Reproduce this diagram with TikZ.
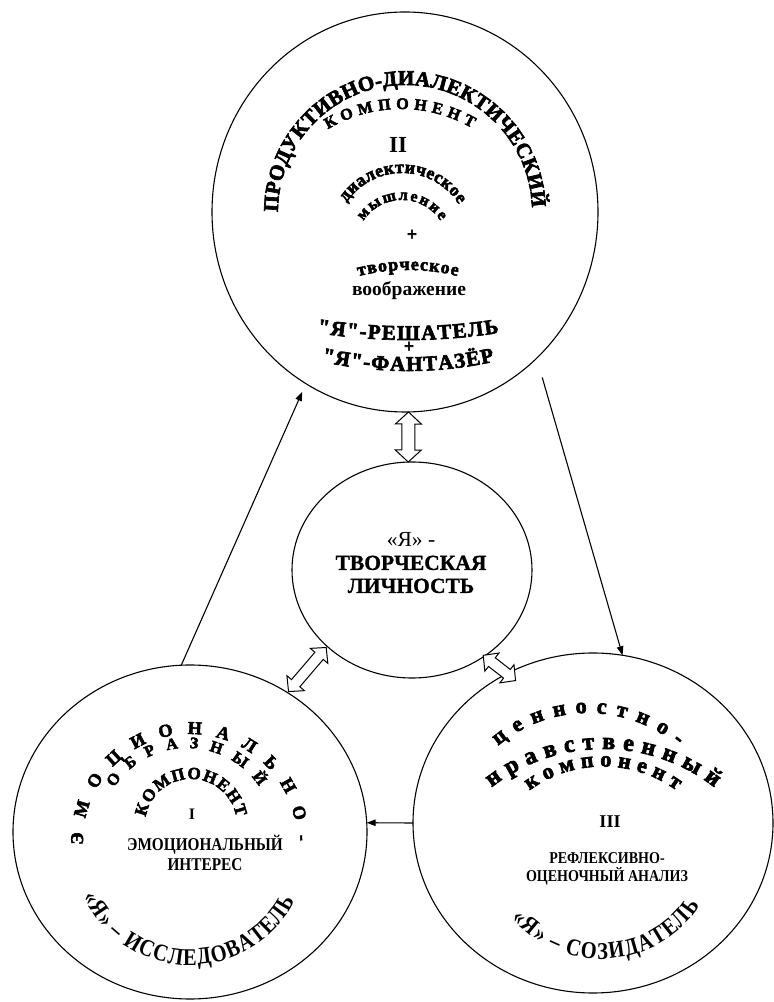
\documentclass[tikz,border=0pt]{standalone}
\usepackage{fontspec}
\setmainfont{Liberation Serif}
\newfontfamily\condfont[FakeStretch=0.85]{Liberation Serif}
\newfontfamily\heavy[UprightFont={* Bold},FakeBold=3]{Liberation Serif}
\newfontfamily\semiheavy[UprightFont={* Bold},FakeBold=1]{Liberation Serif}
\usetikzlibrary{shapes.geometric, arrows.meta, decorations.text, calc}

\newcommand\arctext[6]{%
  \path[decorate, decoration={text along path, text={|#5|#6}, text align={fit to path}}]
    (#1) ++(#3:#2) arc[start angle=#3, end angle=#4, radius=#2];}

\newcommand\dblarrow[7]{%
  \draw[hollow] let \p1=(#1), \p2=(#2), \p3=($(\p1)!#3!(\p2)$),
    \n1={atan2(\y2-\y1,\x2-\x1)} in
    ([da]-#4,0) -- ([da]-#4+#7,#6) -- ([da]-#4+#7,#5) -- ([da]#4-#7,#5) --
    ([da]#4-#7,#6) -- ([da]#4,0) -- ([da]#4-#7,-#6) -- ([da]#4-#7,-#5) --
    ([da]-#4+#7,-#5) -- ([da]-#4+#7,-#6) -- cycle;}

\begin{document}
\begin{tikzpicture}[x=1pt,y=1pt]
\tikzset{
  circ/.style={draw, ellipse, inner sep=0pt, outer sep=0pt, line width=1.1pt},
  conn/.style={line width=1.1pt, -{Triangle[length=9pt,width=6.5pt]}},
  hollow/.style={draw, line width=1pt, fill=white, line join=miter},
  da/.style={shift={(\p3)}, rotate=\n1},
  lbl/.style={inner sep=0pt, align=center}
}
\fill[white] (0,0) rectangle (774,1002);
\useasboundingbox (0,0) rectangle (774,1002);

% circles
\node[circ, minimum width=386pt, minimum height=400pt] (top) at (405,1002-212) {};
\node[circ, minimum width=240pt, minimum height=216pt] (mid) at (412,1002-570) {};
\node[circ, minimum width=354pt, minimum height=334pt] (left) at (190,1002-832) {};
\node[circ, minimum width=360pt, minimum height=340pt] (right) at (593,1002-823) {};

% connectors
\draw[conn, shorten >=9pt] (left.93) -- (top.240);
\draw[conn, shorten <=20pt] (top.312) -- (right.80);
\draw[conn] (right.180) -- (left.3);

% hollow double arrows
\dblarrow{top.271}{mid.92}{0.5}{25}{6.5}{13}{12}
\dblarrow{left.55}{mid.222}{0.5}{29}{5.5}{11.5}{11}
\dblarrow{mid.310}{right.120}{0.67}{20.5}{5.5}{11.5}{11}

% top circle texts
\coordinate (c1) at (405,1002-212);
\arctext{c1}{127}{180}{2}{\heavy\fontsize{21}{24}\selectfont}{ПРОДУКТИВНО-ДИАЛЕКТИЧЕСКИЙ}
\coordinate (c2) at (401,1002-251);
\arctext{c2}{142}{121}{60}{\heavy\fontsize{16}{19}\selectfont}{КОМПОНЕНТ}
\node[lbl, font=\bfseries\fontsize{23}{26}\selectfont] (n2) at (398,1002-145) {II};
\coordinate (c3) at (402,1002-240);
\arctext{c3}{67}{146}{32}{\heavy\fontsize{18}{21}\selectfont}{диалектическое}
\coordinate (c4) at (402,1002-246);
\arctext{c4}{46}{147}{33}{\heavy\fontsize{16}{19}\selectfont}{мышление}
\node[lbl, font=\heavy\fontsize{18}{20}\selectfont] (plus1) at (412,1002-235) {+};
\coordinate (c5) at (408,1002-475);
\arctext{c5}{205}{104}{76}{\heavy\fontsize{18}{21}\selectfont}{творческое}
\node[lbl, font=\bfseries\fontsize{19.5}{22}\selectfont] (voobr) at (409,1002-291) {воображение};
\coordinate (c6) at (408,1244);
\arctext{c6}{582}{261}{279}{\heavy\fontsize{21}{24}\selectfont}{"Я"-РЕШАТЕЛЬ}
\node[lbl, font=\heavy\fontsize{18}{20}\selectfont] (plus2) at (409,1002-347) {+};
\coordinate (c7) at (408,1031);
\arctext{c7}{400}{257.5}{282.5}{\heavy\fontsize{21}{24}\selectfont}{"Я"-ФАНТАЗЁР}

% middle circle text
\node[lbl, font=\semiheavy\fontsize{21.5}{23}\selectfont] (mtext) at (411,1002-563)
  {{\rmfamily\mdseries «Я» -}\\ТВОРЧЕСКАЯ\\ЛИЧНОСТЬ};

% left circle texts
\coordinate (c8) at (190,1002-841);
\arctext{c8}{107}{182}{0}{\heavy\fontsize{18}{21}\selectfont}{ЭМОЦИОНАЛЬНО-}
\coordinate (c9) at (187,1002-835);
\arctext{c9}{87}{147}{34}{\heavy\fontsize{16}{19}\selectfont}{ОБРАЗНЫЙ}
\coordinate (c10) at (191,1002-825);
\arctext{c10}{46}{170}{10}{\heavy\fontsize{17}{20}\selectfont}{КОМПОНЕНТ}
\node[lbl, font=\bfseries\fontsize{16}{18}\selectfont] (n1) at (192,1002-814) {I};
\node[lbl, font=\condfont\bfseries\fontsize{18}{20}\selectfont] (ltext) at (205,1002-853)
  {ЭМОЦИОНАЛЬНЫЙ\\ИНТЕРЕС};
\coordinate (c11) at (190,1002-847);
\arctext{c11}{118}{205}{333}{\condfont\bfseries\fontsize{24}{27}\selectfont}{«Я» – ИССЛЕДОВАТЕЛЬ}

% right circle texts
\coordinate (c12) at (588,1002-853);
\arctext{c12}{140}{130}{50}{\heavy\fontsize{22}{25}\selectfont}{ценностно-}
\coordinate (c13) at (603,1002-930);
\arctext{c13}{181}{128}{52}{\heavy\fontsize{24}{27}\selectfont}{нравственный}
\coordinate (c14) at (603,1002-891.5);
\arctext{c14}{125}{126}{54}{\heavy\fontsize{22}{25}\selectfont}{компонент}
\node[lbl, font=\bfseries\fontsize{18}{20}\selectfont] (n3) at (610,1002-822) {III};
\node[lbl, font=\condfont\bfseries\fontsize{16.5}{18}\selectfont] (rtext) at (607,1002-869)
  {РЕФЛЕКСИВНО-\\ОЦЕНОЧНЫЙ АНАЛИЗ};
\coordinate (c15) at (601,1002-841);
\arctext{c15}{118}{221}{327}{\condfont\bfseries\fontsize{24}{27}\selectfont}{«Я» – СОЗИДАТЕЛЬ}
\end{tikzpicture}
\end{document}
